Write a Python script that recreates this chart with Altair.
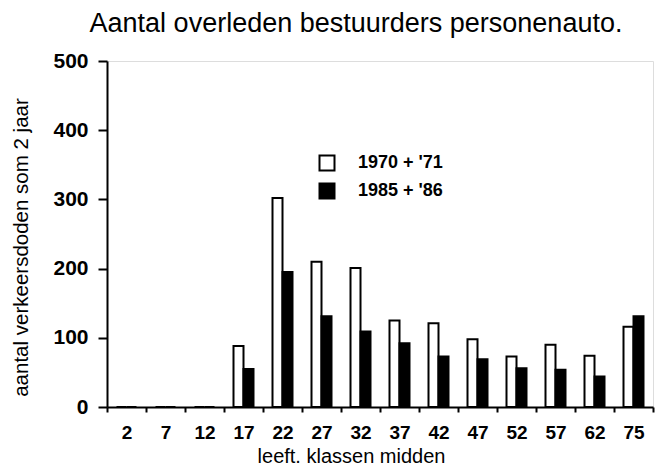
import altair as alt
import pandas as pd

ages = ["2", "7", "12", "17", "22", "27", "32", "37", "42", "47", "52", "57", "62", "75"]
deaths_1970_71 = [0, 0, 0, 88, 302, 210, 201, 125, 121, 98, 73, 90, 74, 116]
deaths_1985_86 = [0, 0, 0, 55, 195, 131, 109, 92, 73, 69, 56, 54, 44, 131]
periods = ["1970 + '71", "1985 + '86"]

rows = []
for a, v1, v2 in zip(ages, deaths_1970_71, deaths_1985_86):
    rows.append({"leeftijd": a, "periode": periods[0], "doden": v1})
    rows.append({"leeftijd": a, "periode": periods[1], "doden": v2})
df = pd.DataFrame(rows)

FONT = "Liberation Sans"

chart = alt.Chart(df).mark_bar(stroke="black", strokeWidth=2).encode(
    x=alt.X(
        "leeftijd:N",
        sort=ages,
        scale=alt.Scale(paddingInner=0, paddingOuter=0),
        axis=alt.Axis(
            title="leeft. klassen midden",
            labelAngle=0,
            tickBand="extent",
            tickSize=5,
            tickWidth=2,
            tickColor="black",
            domainWidth=2,
            domainColor="black",
            labelFontSize=19,
            labelFontWeight="bold",
            labelFont=FONT,
            labelColor="black",
            labelPadding=11,
            titleFontSize=20,
            titleFont=FONT,
            titleFontWeight="normal",
            titleColor="black",
            titleX=244,
            titleY=49,
            titleBaseline="middle",
        ),
    ),
    xOffset=alt.XOffset(
        "periode:N",
        sort=periods,
        scale=alt.Scale(domain=periods, paddingOuter=0.95, paddingInner=0),
    ),
    y=alt.Y(
        "doden:Q",
        scale=alt.Scale(domain=[0, 500], nice=False),
        axis=alt.Axis(
            title="aantal verkeersdoden som 2 jaar",
            values=[0, 100, 200, 300, 400, 500],
            grid=False,
            tickSize=9,
            tickWidth=2,
            tickColor="black",
            domainWidth=2,
            domainColor="black",
            labelFontSize=21,
            labelFontWeight="bold",
            labelFont=FONT,
            labelColor="black",
            labelPadding=10,
            titleFontSize=20.5,
            titleFont=FONT,
            titleFontWeight="normal",
            titleColor="black",
            titleAngle=-90,
            titleX=-86,
            titleY=186,
            titleBaseline="middle",
            titleAlign="center",
        ),
    ),
    color=alt.Color(
        "periode:N",
        sort=periods,
        scale=alt.Scale(domain=periods, range=["white", "black"]),
        legend=alt.Legend(
            title=None,
            orient="none",
            legendX=211,
            legendY=93,
            padding=0,
            symbolType="square",
            symbolSize=225,
            symbolStrokeColor="black",
            symbolStrokeWidth=2,
            labelFontSize=18,
            labelFont=FONT,
            labelFontWeight="bold",
            labelColor="black",
            labelOffset=22,
            rowPadding=4,
        ),
    ),
).properties(
    width=546,
    height=346,
    autosize=alt.AutoSizeParams(type="none"),
    padding={"left": 99, "top": 53, "right": 2, "bottom": 58},
    title=alt.Title(
        "Aantal overleden bestuurders personenauto.",
        fontSize=27,
        font=FONT,
        fontWeight="normal",
        color="black",
        anchor="middle",
        dx=-24,
        offset=12,
    ),
).configure_view(stroke=None).configure(background="white")

chart.save("out.html", embed_options={"renderer": "svg", "actions": False})
